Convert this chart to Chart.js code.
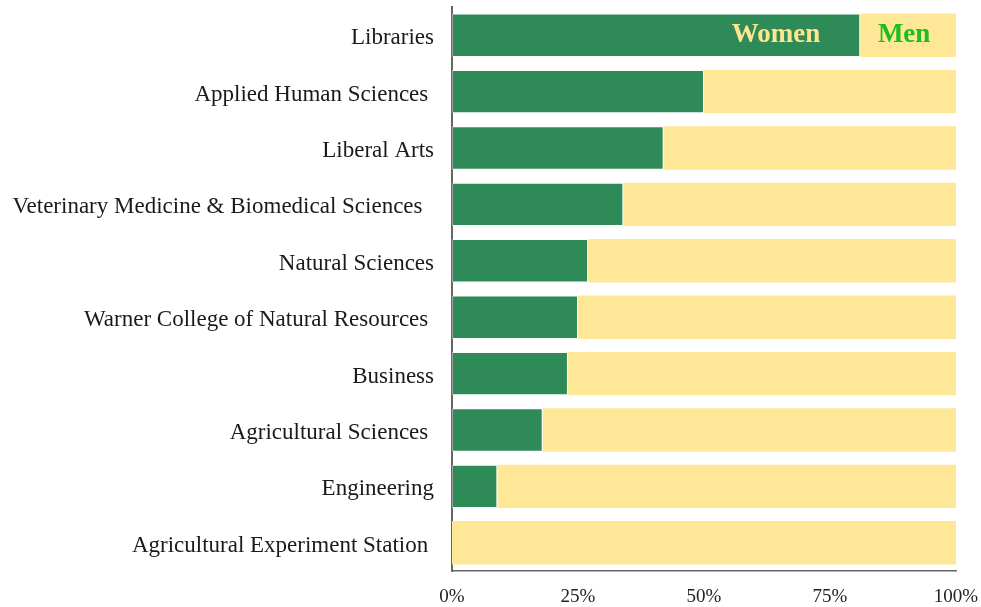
<!DOCTYPE html>
<html>
<head>
<meta charset="utf-8">
<script src="https://cdn.jsdelivr.net/npm/chart.js@4"></script>
<style>
  body { margin: 0; background: #fff; }
  #wrap { width: 981px; height: 607px; }
</style>
</head>
<body>
<div id="wrap"><canvas id="genderChart"></canvas></div>
<script>
var colleges = [
  'Libraries',
  'Applied Human Sciences ',
  'Liberal Arts',
  'Veterinary Medicine & Biomedical Sciences  ',
  'Natural Sciences',
  'Warner College of Natural Resources ',
  'Business',
  'Agricultural Sciences ',
  'Engineering',
  'Agricultural Experiment Station '
];
var women = [81, 50, 42, 34, 27, 25, 23, 18, 9, 0];
var men = [19, 50, 58, 66, 73, 75, 77, 82, 91, 100];
var xTicks = [0, 25, 50, 75, 100];

var fontFamily = '"Liberation Serif", "DejaVu Serif", serif';

// writes Women / Men inside the top bar
var seriesLabels = {
  id: 'seriesLabels',
  afterDatasetsDraw(chart) {
    var ctx = chart.ctx;
    var w = chart.getDatasetMeta(0).data[0];
    var m = chart.getDatasetMeta(1).data[0];
    ctx.save();
    ctx.font = 'bold 27px ' + fontFamily;
    ctx.textBaseline = 'middle';
    ctx.textAlign = 'right';
    ctx.fillStyle = '#fde68f';
    ctx.fillText(chart.data.datasets[0].label, w.x - 40, w.y);
    ctx.textAlign = 'center';
    ctx.fillStyle = '#1ebd1e';
    ctx.fillText(chart.data.datasets[1].label, (m.base + m.x) / 2 - 4, m.y);
    ctx.restore();
  }
};

var ctx = document.getElementById('genderChart').getContext('2d');
var genderChart = new Chart(ctx, {
  type: 'bar',
  data: {
    labels: colleges,
    datasets: [
      {
        label: 'Women',
        data: women,
        backgroundColor: '#2e8b57',
        borderColor: 'rgba(255,255,255,0.4)',
        borderWidth: 1,
        borderSkipped: false,
        barPercentage: 0.77,
        categoryPercentage: 1
      },
      {
        label: 'Men',
        data: men,
        backgroundColor: '#fee797',
        borderWidth: 0,
        barPercentage: 0.77,
        categoryPercentage: 1
      }
    ]
  },
  options: {
    indexAxis: 'y',
    responsive: true,
    maintainAspectRatio: false,
    animation: false,
    layout: { padding: { top: 7, right: 25, left: 0, bottom: 0 } },
    plugins: {
      legend: { display: false },
      tooltip: { enabled: false }
    },
    scales: {
      x: {
        stacked: true,
        min: 0,
        max: 100,
        afterBuildTicks: function (scale) {
          scale.ticks = xTicks.map(function (v) { return { value: v }; });
        },
        afterFit: function (scale) {
          scale.height = 36;
          scale.paddingLeft = 0;
          scale.paddingRight = 0;
        },
        grid: { display: false, drawTicks: false },
        border: { display: true, color: '#666', width: 1.5 },
        ticks: {
          padding: 15,
          color: '#222',
          font: { family: fontFamily, size: 19 },
          callback: function (v) { return v + '%'; }
        }
      },
      y: {
        stacked: true,
        afterFit: function (scale) {
          scale.width = 452;
          scale.paddingTop = 0;
          scale.paddingBottom = 0;
        },
        grid: { display: false, drawTicks: false },
        border: { display: true, color: '#666', width: 2 },
        ticks: {
          padding: 18,
          labelOffset: 3,
          color: '#1a1a1a',
          font: { family: fontFamily, size: 23 },
          autoSkip: false
        }
      }
    }
  },
  plugins: [seriesLabels]
});
</script>
</body>
</html>
